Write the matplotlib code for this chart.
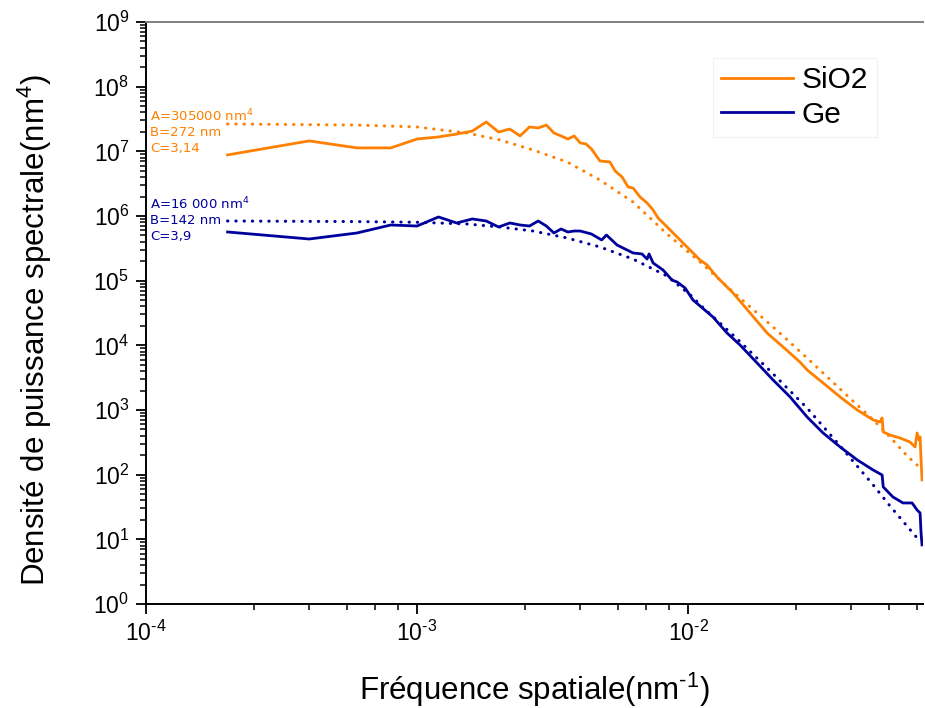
import numpy as np
import matplotlib
matplotlib.use("Agg")
import matplotlib.pyplot as plt
from matplotlib.ticker import FixedLocator, LogLocator, FuncFormatter, NullFormatter

plt.rcParams['font.family'] = ['Liberation Sans', 'DejaVu Sans']
plt.rcParams['mathtext.default'] = 'regular'
plt.rcParams['axes.unicode_minus'] = False

# SiO2 : spectre mesuré
sio2_f = [2e-4, 4e-4, 6e-4, 8e-4, 1.0e-3, 1.2e-3, 1.4e-3, 1.6e-3, 1.8e-3, 2.0e-3,
          2.2e-3, 2.4e-3, 2.6e-3, 2.8e-3, 3.0e-3, 3.2e-3, 3.4e-3, 3.6e-3, 3.8e-3, 4.0e-3,
          4.2e-3, 4.4e-3, 4.73e-3, 5.15e-3, 5.38e-3, 5.71e-3, 6.01e-3, 6.27e-3, 6.65e-3, 7.06e-3,
          7.43e-3, 7.75e-3, 8.02e-3, 8.81e-3, 9.91e-3, 1.107e-2, 1.175e-2, 1.279e-2, 1.466e-2, 1.694e-2,
          1.958e-2, 2.244e-2, 2.59e-2, 2.75e-2, 3.15e-2, 3.64e-2, 4.21e-2, 4.82e-2, 5.11e-2, 5.20e-2,
          5.25e-2, 5.56e-2, 6.05e-2, 6.59e-2, 6.88e-2, 7.0e-2, 7.12e-2, 7.18e-2, 7.24e-2, 7.30e-2]
sio2_psd = [8.8e6, 1.45e7, 1.13e7, 1.13e7, 1.55e7, 1.67e7, 1.85e7, 2.06e7, 2.84e7, 1.99e7,
            2.21e7, 1.73e7, 2.38e7, 2.30e7, 2.55e7, 1.92e7, 1.73e7, 1.55e7, 1.73e7, 1.35e7,
            1.30e7, 1.09e7, 7.1e6, 6.84e6, 4.97e6, 4.01e6, 2.81e6, 2.71e6, 1.97e6, 1.59e6,
            1.24e6, 9.3e5, 8.1e5, 5.46e5, 3.32e5, 2.09e5, 1.75e5, 1.14e5, 6.44e4, 3.16e4,
            1.55e4, 9.4e3, 5.5e3, 4.16e3, 2.62e3, 1.59e3, 1.0e3, 702, 653, 753,
            457, 411, 369, 320, 268, 441, 344, 383, 169, 83]

# Ge : spectre mesuré
ge_f = [2e-4, 4e-4, 6e-4, 8e-4, 1.0e-3, 1.2e-3, 1.4e-3, 1.6e-3, 1.8e-3, 2.0e-3,
        2.2e-3, 2.4e-3, 2.6e-3, 2.8e-3, 3.0e-3, 3.2e-3, 3.4e-3, 3.6e-3, 3.8e-3, 4.0e-3,
        4.4e-3, 4.8e-3, 5.0e-3, 5.47e-3, 6.27e-3, 6.76e-3, 7.06e-3, 7.18e-3, 7.43e-3, 8.09e-3,
        8.73e-3, 9.11e-3, 9.75e-3, 1.043e-2, 1.107e-2, 1.236e-2, 1.393e-2, 1.556e-2, 1.798e-2, 2.06e-2,
        2.38e-2, 2.75e-2, 3.15e-2, 3.64e-2, 4.21e-2, 4.82e-2, 5.20e-2, 5.25e-2, 5.70e-2, 6.21e-2,
        6.71e-2, 7.0e-2, 7.18e-2, 7.24e-2, 7.30e-2]
ge_psd = [5.66e5, 4.41e5, 5.46e5, 7.26e5, 7.0e5, 9.66e5, 7.8e5, 9.0e5, 8.37e5, 6.76e5,
          7.8e5, 7.26e5, 7.0e5, 8.37e5, 7.0e5, 5.46e5, 6.3e5, 5.66e5, 5.86e5, 5.86e5,
          5.27e5, 4.26e5, 5.08e5, 3.56e5, 2.68e5, 2.59e5, 2.16e5, 2.59e5, 1.88e5, 1.46e5,
          1.02e5, 9.55e4, 7.71e4, 5.02e4, 4.06e4, 2.74e4, 1.55e4, 1.01e4, 5.33e3, 2.91e3,
          1.59e3, 780, 441, 268, 169, 118, 98.9, 64.6, 45.2, 36.5,
          36.5, 28.4, 25.6, 12.5, 8.2]

# ajustements (modèle ABC)
sio2_fit_f = [2e-4, 6e-4, 1e-3, 1.53e-3, 2.02e-3, 2.68e-3, 3.58e-3, 4.73e-3, 6.26e-3, 8.37e-3,
              1.107e-2, 1.466e-2, 2.06e-2, 2.75e-2, 3.64e-2, 4.82e-2, 5.56e-2, 6.43e-2, 7.0e-2]
sio2_fit = [2.65e7, 2.55e7, 2.38e7, 1.92e7, 1.50e7, 1.05e7, 6.84e6, 3.60e6, 1.65e6, 5.27e5,
            1.95e5, 6.68e4, 1.92e4, 6.37e3, 2.11e3, 702, 383, 195, 141]
ge_fit_f = [2e-4, 6e-4, 1e-3, 1.53e-3, 2.02e-3, 2.68e-3, 3.58e-3, 4.73e-3, 6.26e-3, 8.37e-3,
            1.02e-2, 1.13e-2, 1.52e-2, 2.01e-2, 2.75e-2, 3.64e-2, 4.82e-2, 5.56e-2, 7.0e-2]
ge_fit = [8.37e5, 8.2e5, 8.0e5, 7.52e5, 6.76e5, 5.86e5, 4.57e5, 3.32e5, 2.16e5, 1.18e5,
          6.0e4, 3.92e4, 1.25e4, 4.01e3, 1.07e3, 278, 69.3, 32.8, 10.5]

sio2_params = ['A=305000 nm$^4$', 'B=272 nm', 'C=3,14']
ge_params = ['A=16 000 nm$^4$', 'B=142 nm', 'C=3,9']

orange = '#FF8000'
navy = '#00009C'
HYPH = '\u2010'


def puissance(v, pos):
    # 10^n avec un tiret court comme dans Origin
    n = int(round(np.log10(v)))
    return '$10^{%s}$' % str(n).replace('-', HYPH)


fig = plt.figure(figsize=(9.25, 7.08), dpi=100)
ax = fig.add_axes([146/925, 104/708, 777/925, 582/708])

ax.plot(sio2_f, sio2_psd, color=orange, lw=2.0, label='SiO2')
ax.plot(ge_f, ge_psd, color=navy, lw=2.0, label='Ge')
ax.plot(sio2_fit_f, sio2_fit, color=orange, lw=2.2, ls=(0, (0.1, 2.6)), dash_capstyle='round')
ax.plot(ge_fit_f, ge_fit, color=navy, lw=2.2, ls=(0, (0.1, 2.6)), dash_capstyle='round')

ax.set_xscale('log')
ax.set_yscale('log')
ax.set_xlim(1e-4, 0.0736)
ax.set_ylim(1e0, 1e9)

ax.xaxis.set_major_locator(FixedLocator([1e-4, 1e-3, 1e-2]))
ax.xaxis.set_major_formatter(FuncFormatter(puissance))
ax.xaxis.set_minor_locator(LogLocator(base=10, subs=[2.5, 4, 5.5, 7, 8.5], numticks=50))
ax.xaxis.set_minor_formatter(NullFormatter())
ax.yaxis.set_major_locator(FixedLocator([10.0**k for k in range(10)]))
ax.yaxis.set_major_formatter(FuncFormatter(puissance))
ax.yaxis.set_minor_locator(LogLocator(base=10, subs=np.arange(2, 10), numticks=100))
ax.yaxis.set_minor_formatter(NullFormatter())

ax.tick_params(which='major', direction='out', length=7, width=1.3, labelsize=16.5, pad=5)
ax.tick_params(which='minor', direction='out', length=4, width=1.1)

ax.spines['right'].set_visible(False)
ax.spines['top'].set_color('#808080')
for s in ['left', 'bottom', 'top']:
    ax.spines[s].set_linewidth(1.4)

ax.set_xlabel('Fréquence spatiale(nm$^{%s1}$)' % HYPH, fontsize=22.5, labelpad=18)
ax.set_ylabel('Densité de puissance spectrale(nm$^4$)', fontsize=22.5)
ax.yaxis.set_label_coords(-0.118, 0.47)

# paramètres des ajustements
for i, t in enumerate(sio2_params):
    ax.text(0.005, 0.838 - i * 0.028, t, transform=ax.transAxes, color=orange,
            fontsize=9.5, family='DejaVu Sans', va='center')
for i, t in enumerate(ge_params):
    ax.text(0.005, 0.687 - i * 0.028, t, transform=ax.transAxes, color=navy,
            fontsize=9.5, family='DejaVu Sans', va='center')

leg = ax.legend(loc='upper left', bbox_to_anchor=(713/925, 1 - 58/708),
                bbox_transform=fig.transFigure, fontsize=21.5, frameon=True,
                fancybox=False, edgecolor='#eeeeee', handlelength=2.4,
                handletextpad=0.3, labelspacing=0.22, borderpad=0.28, borderaxespad=0)
leg.get_frame().set_linewidth(0.8)

fig.savefig('out.png', dpi=100)
